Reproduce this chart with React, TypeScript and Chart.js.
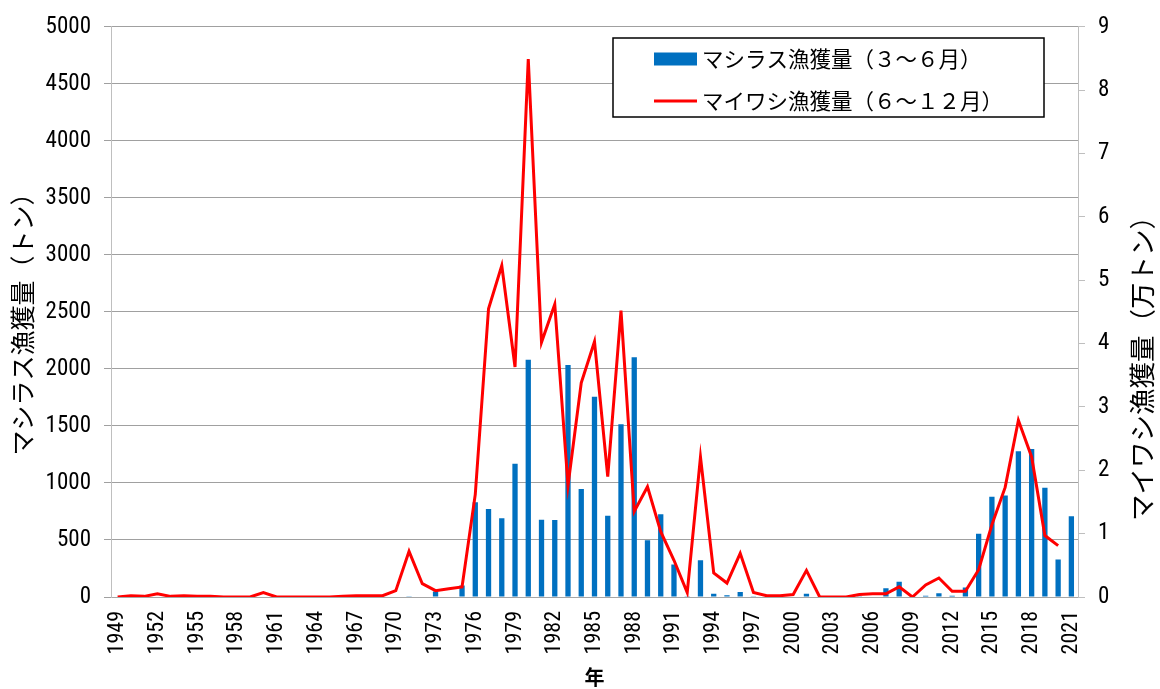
import React, { useEffect, useRef } from "react";
import { Chart, registerables } from "chart.js";

Chart.register(...registerables);

const years: string[] = [];
for (let y = 1949; y <= 2021; y++) years.push(String(y));

// マシラス漁獲量（トン） 1949–2021
const shirasuCatch: number[] = [
  0, 5, 8, 0, 0, 0, 0, 0, 0, 0, // 1949-1958
  0, 0, 0, 0, 0, 0, 0, 0, 0, 0, // 1959-1968
  0, 0, 3, 0, 49, 0, 100, 830, 772, 690, // 1969-1978
  1168, 2080, 678, 675, 2035, 948, 1755, 713, 1515, 2102, // 1979-1988
  497, 725, 285, 7, 323, 29, 15, 44, 6, 0, // 1989-1998
  0, 0, 29, 0, 0, 0, 3, 0, 76, 134, // 1999-2008
  0, 12, 32, 12, 84, 555, 878, 890, 1279, 1297, // 2009-2018
  959, 328, 709, // 2019-2021
];

// マイワシ漁獲量（万トン） 1949–2021
const iwashiCatch: (number | null)[] = [
  0.0, 0.02, 0.01, 0.05, 0.01, 0.02, 0.01, 0.01, 0.0, 0.0, // 1949-1958
  0.0, 0.07, 0.0, 0.0, 0.0, 0.0, 0.0, 0.01, 0.02, 0.02, // 1959-1968
  0.02, 0.1, 0.72, 0.21, 0.1, 0.13, 0.16, 1.62, 4.55, 5.23, // 1969-1978
  3.63, 8.49, 4.02, 4.62, 1.76, 3.38, 4.03, 1.9, 4.52, 1.35, // 1979-1988
  1.74, 1.03, 0.58, 0.07, 2.21, 0.38, 0.22, 0.69, 0.07, 0.02, // 1989-1998
  0.02, 0.04, 0.42, 0.0, 0.0, 0.0, 0.04, 0.05, 0.05, 0.16, // 1999-2008
  0.0, 0.19, 0.3, 0.09, 0.09, 0.43, 1.14, 1.73, 2.79, 2.21, // 2009-2018
  0.97, 0.81, null, // 2019-2021
];

const barLabel = "マシラス漁獲量（３～６月）";
const lineLabel = "マイワシ漁獲量（６～１２月）";
const leftTitle = "マシラス漁獲量（トン）";
const rightTitle = "マイワシ漁獲量（万トン）";
const xTitle = "年";

const JP = "'Noto Sans CJK JP', 'Noto Sans', sans-serif";
const NUM = "'Liberation Sans Narrow', 'Roboto Condensed', 'DejaVu Sans Condensed', Roboto, sans-serif";

const BLUE = "#0070C0";
const RED = "#FF0000";

const customPlugin = {
  id: "customDecor",
  afterDraw(chart: any) {
    const ctx: CanvasRenderingContext2D = chart.ctx;
    ctx.save();
    // axis titles
    ctx.fillStyle = "#000";
    ctx.textAlign = "center";
    ctx.textBaseline = "middle";
    ctx.font = `25px ${JP}`;
    ctx.save();
    ctx.translate(22, 318);
    ctx.rotate(-Math.PI / 2);
    ctx.fillText(leftTitle, 0, 0);
    ctx.restore();
    ctx.font = `26.5px ${JP}`;
    ctx.save();
    ctx.translate(1142, 362);
    ctx.rotate(-Math.PI / 2);
    ctx.fillText(rightTitle, 0, 0);
    ctx.restore();

    // legend box
    const lx = 613, ly = 38, lw = 431, lh = 79;
    ctx.fillStyle = "#fff";
    ctx.fillRect(lx, ly, lw, lh);
    ctx.strokeStyle = "#000";
    ctx.lineWidth = 1.5;
    ctx.strokeRect(lx, ly, lw, lh);
    const ds = chart.data.datasets;
    const rows = [
      { ds: ds[0], y: 59 },
      { ds: ds[1], y: 101 },
    ];
    ctx.font = `21.5px ${JP}`;
    ctx.textAlign = "left";
    ctx.textBaseline = "middle";
    for (const r of rows) {
      if (r.ds.type === "bar") {
        ctx.fillStyle = r.ds.backgroundColor;
        ctx.fillRect(654, r.y - 6.5, 43, 13);
      } else {
        ctx.strokeStyle = r.ds.borderColor;
        ctx.lineWidth = 3;
        ctx.beginPath();
        ctx.moveTo(654, r.y);
        ctx.lineTo(697, r.y);
        ctx.stroke();
      }
      ctx.fillStyle = "#000";
      ctx.fillText(r.ds.label, 702, r.y);
    }
    ctx.restore();
  },
};

export default function App() {
  const ref = useRef<HTMLCanvasElement | null>(null);
  useEffect(() => {
    if (!ref.current) return;
    const chart = new Chart(ref.current, {
      type: "bar",
      data: {
        labels: years,
        datasets: [
          {
            type: "bar",
            label: barLabel,
            data: shirasuCatch,
            backgroundColor: BLUE,
            borderWidth: 0,
            barPercentage: 0.4,
            categoryPercentage: 1,
            yAxisID: "y",
            order: 2,
          } as any,
          {
            type: "line",
            label: lineLabel,
            data: iwashiCatch,
            borderColor: RED,
            backgroundColor: RED,
            borderWidth: 3,
            pointRadius: 0,
            tension: 0,
            spanGaps: false,
            yAxisID: "y1",
            order: 1,
          } as any,
        ],
      },
      options: {
        responsive: false,
        animation: false,
        devicePixelRatio: 1,
        layout: { padding: { top: 24, left: 0, right: 0, bottom: 0 } },
        plugins: {
          legend: { display: false },
          tooltip: { enabled: false },
        },
        scales: {
          x: {
            offset: true,
            grid: { display: true, drawOnChartArea: false, drawTicks: false, color: "#a6a6a6" },
            border: { display: true, color: "#a6a6a6", width: 1 },
            ticks: {
              autoSkip: false,
              minRotation: 90,
              maxRotation: 90,
              padding: 14,
              color: "#000",
              font: { family: NUM, size: 22 },
              callback: (_v: any, i: number) => (i % 3 === 0 ? years[i] : ""),
            },
            title: {
              display: true,
              text: xTitle,
              color: "#000",
              font: { family: JP, size: 20, weight: "bold" },
              padding: 0,
            },
            afterFit: (s: any) => {
              s.height = 92;
            },
          },
          y: {
            position: "left",
            min: 0,
            max: 5000,
            ticks: {
              stepSize: 500,
              padding: 13,
              color: "#000",
              font: { family: NUM, size: 23 },
              callback: (v: any) => String(v),
            },
            grid: { color: "#a0a0a0", tickLength: 7, drawTicks: true },
            border: { display: true, color: "#bfbfbf", width: 1 },
            afterFit: (s: any) => {
              s.width = 111;
            },
          },
          y1: {
            position: "right",
            min: 0,
            max: 9,
            ticks: {
              stepSize: 1,
              padding: 13,
              color: "#000",
              font: { family: NUM, size: 23 },
              callback: (v: any) => String(v),
            },
            grid: { drawOnChartArea: false, color: "#bfbfbf", tickLength: 7, drawTicks: true },
            border: { display: true, color: "#bfbfbf", width: 1 },
            afterFit: (s: any) => {
              s.width = 82;
            },
          },
        },
      },
      plugins: [customPlugin],
    });
    return () => chart.destroy();
  }, []);
  return (
    <div style={{ position: "absolute", left: 0, top: 0, width: 1160, height: 689, background: "#fff" }}>
      <canvas ref={ref} width={1160} height={689} style={{ width: 1160, height: 689, display: "block" }} />
    </div>
  );
}
